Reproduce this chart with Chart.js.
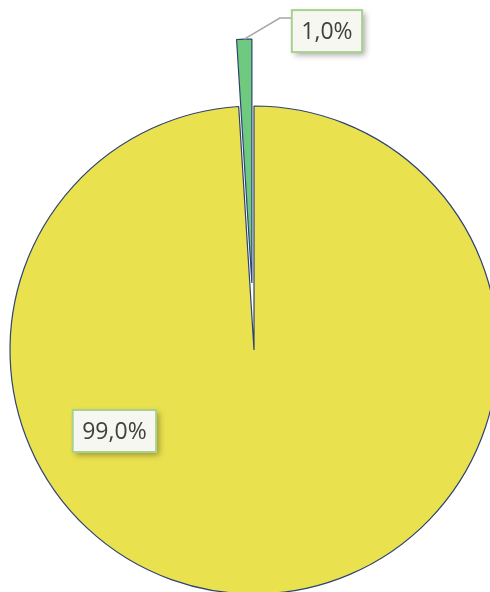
<!DOCTYPE html>
<html>
<head>
<meta charset="utf-8">
<script src="https://cdn.jsdelivr.net/npm/chart.js@4"></script>
<style>
  html, body { margin: 0; padding: 0; background: #fff; overflow: hidden; width: 490px; height: 592px; }
  #wrap { position: absolute; left: 0; top: 0; width: 508px; height: 700px; }
</style>
</head>
<body>
<div id="wrap"><canvas id="pie" width="508" height="700"></canvas></div>
<script>
// chart data
const categories = ["A", "B"];
const values = [99.0, 1.0];
const pctLabels = ["99,0%", "1,0%"];
const sliceColors = ["#EAE14E", "#6FCA7F"];
const explode = [0, 67]; // pull-out of each slice, px

// label boxes, placed relative to the pie (fractions of radius)
const labelPlacement = [
  { dx: -0.572, dy: 0.332, leader: false },
  { dx: 0.299, dy: -1.307, leader: true }
];

// Chart.js offset also shrinks the slice, so move the exploded arcs by translating instead
const explodePlugin = {
  id: 'explode',
  beforeDatasetsDraw(chart) {
    const meta = chart.getDatasetMeta(0);
    meta.data.forEach((arc, i) => {
      if (!explode[i] || arc._exploded) return;
      const baseDraw = Object.getPrototypeOf(arc).draw;
      arc.draw = function (ctx, area) {
        const mid = (this.startAngle + this.endAngle) / 2;
        ctx.save();
        ctx.translate(Math.cos(mid) * explode[i], Math.sin(mid) * explode[i]);
        baseDraw.call(this, ctx, area);
        ctx.restore();
      };
      arc._exploded = true;
    });
  }
};

const labelPlugin = {
  id: 'boxLabels',
  afterDatasetsDraw(chart) {
    const {ctx} = chart;
    const meta = chart.getDatasetMeta(0);
    ctx.save();
    ctx.font = '23px "Open Sans", "Noto Sans", sans-serif';
    ctx.textBaseline = 'middle';
    ctx.textAlign = 'center';
    meta.data.forEach((arc, i) => {
      const r = arc.outerRadius;
      const p = labelPlacement[i];
      const cx = arc.x + p.dx * r;
      const cy = arc.y + p.dy * r;
      const txt = pctLabels[i];
      const w = ctx.measureText(txt).width + 19;
      const h = 42;
      const bx = cx - w / 2, by = cy - h / 2;

      if (p.leader) {
        const mid = (arc.startAngle + arc.endAngle) / 2;
        const ox = arc.x + Math.cos(mid) * (r + explode[i]);
        const oy = arc.y + Math.sin(mid) * (r + explode[i]);
        ctx.strokeStyle = '#A6A6A6';
        ctx.lineWidth = 1.5;
        ctx.beginPath();
        ctx.moveTo(ox, oy);
        ctx.lineTo(bx - 12, by + 8);
        ctx.lineTo(bx, by + 8);
        ctx.stroke();
      }

      ctx.save();
      ctx.shadowColor = 'rgba(0,0,0,0.35)';
      ctx.shadowBlur = 6;
      ctx.shadowOffsetX = 3;
      ctx.shadowOffsetY = 3;
      ctx.fillStyle = '#F7F7F2';
      ctx.fillRect(bx, by, w, h);
      ctx.restore();
      ctx.strokeStyle = '#A9D18E';
      ctx.lineWidth = 2;
      ctx.strokeRect(bx, by, w, h);
      ctx.fillStyle = '#404040';
      ctx.fillText(txt, cx, cy + 1);
    });
    ctx.restore();
  }
};

const canvas = document.getElementById('pie');
const ctx = canvas.getContext('2d');

new Chart(ctx, {
  type: 'pie',
  data: {
    labels: categories,
    datasets: [{
      data: values,
      backgroundColor: sliceColors,
      borderColor: '#2E4372',
      borderWidth: 1.2
    }]
  },
  options: {
    responsive: false,
    animation: false,
    radius: 244,
    layout: { padding: 0 },
    events: [],
    plugins: {
      legend: { display: false },
      tooltip: { enabled: false }
    }
  },
  plugins: [explodePlugin, labelPlugin]
});
</script>
</body>
</html>
